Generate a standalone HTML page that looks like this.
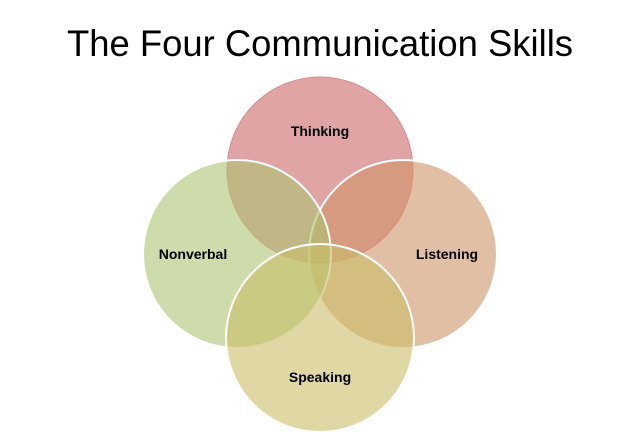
<!DOCTYPE html>
<html><head><style>
html,body{margin:0;padding:0;background:#fff;width:640px;height:436px;overflow:hidden}
</style></head><body>
<svg width="640" height="436" xmlns="http://www.w3.org/2000/svg">
<text x="320" y="56" text-anchor="middle" font-family="Liberation Sans, sans-serif" font-size="37" textLength="506" lengthAdjust="spacingAndGlyphs" fill="#000">The Four Communication Skills</text>
<g stroke="#fff" stroke-width="2">
<circle cx="320" cy="170" r="93" fill="#cb6769" fill-opacity="0.6" stroke="#d98a8c" stroke-width="1"/>
<circle cx="403" cy="254" r="94" fill="#cd9467" fill-opacity="0.6"/>
<circle cx="237" cy="254" r="94" fill="#acc571" fill-opacity="0.6"/>
<circle cx="320" cy="338" r="94" fill="#cabe69" fill-opacity="0.6"/>
</g>
<g font-family="Liberation Sans, sans-serif" font-size="14" font-weight="bold" fill="#000" text-anchor="middle">
<text x="320" y="136">Thinking</text>
<text x="193" y="259">Nonverbal</text>
<text x="447" y="259">Listening</text>
<text x="320" y="382">Speaking</text>
</g>
</svg>
</body></html>
